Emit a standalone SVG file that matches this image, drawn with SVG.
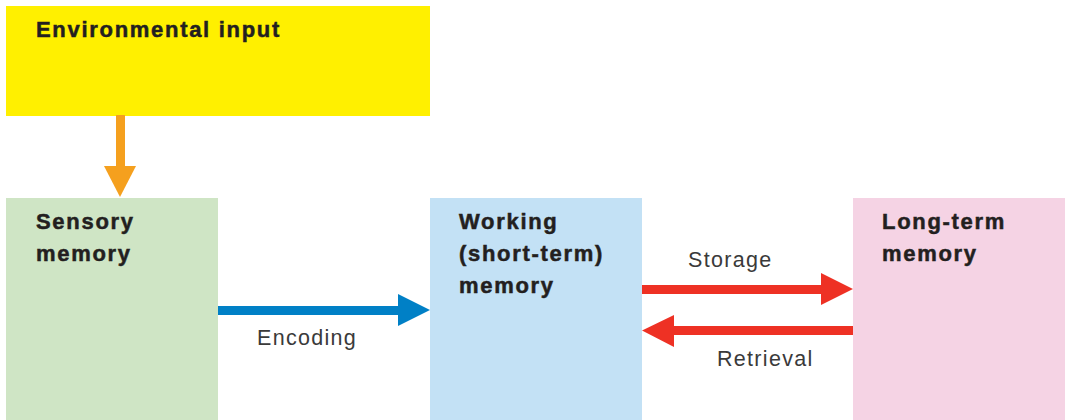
<svg xmlns="http://www.w3.org/2000/svg" width="1065" height="420" viewBox="0 0 1065 420">
<style>
.t{font-family:"Liberation Sans",Arial,sans-serif;font-weight:bold;font-size:22px;fill:#231f20;stroke:#231f20;stroke-width:0.5px;letter-spacing:1.7px}
.l{font-family:"Liberation Sans",Arial,sans-serif;font-size:21.5px;fill:#3a3a3a;letter-spacing:1.3px}
</style>
<rect width="1065" height="420" fill="#ffffff"/>
<g id="env"><rect x="6" y="6" width="424" height="110" fill="#fff000"/><text class="t" x="36" y="37">Environmental input</text></g>
<g id="sensory"><rect x="6" y="198" width="212" height="222" fill="#cfe5c5"/><text class="t" x="36" y="229">Sensory</text><text class="t" x="36" y="261">memory</text></g>
<g id="working"><rect x="430" y="198" width="212" height="222" fill="#c3e1f5"/><text class="t" x="459" y="229">Working</text><text class="t" x="459" y="261">(short-term)</text><text class="t" x="459" y="293">memory</text></g>
<g id="longterm"><rect x="853" y="198" width="212" height="222" fill="#f5d3e4"/><text class="t" x="882" y="229">Long-term</text><text class="t" x="882" y="261">memory</text></g>
<g id="connectors">
<rect x="116" y="115" width="9" height="52" fill="#f5a01e"/><polygon points="104,166 136,166 120,197" fill="#f5a01e"/>
<rect x="218" y="306" width="181" height="9" fill="#0080c6"/><polygon points="398,294 430,310 398,326" fill="#0080c6"/>
<text class="l" x="257" y="345">Encoding</text>
<rect x="642" y="285" width="180" height="9" fill="#ee3124"/><polygon points="821,273 853,289 821,305" fill="#ee3124"/>
<text class="l" x="688" y="267">Storage</text>
<rect x="673" y="326" width="180" height="9" fill="#ee3124"/><polygon points="674,315 642,330.5 674,347" fill="#ee3124"/>
<text class="l" x="717" y="366">Retrieval</text>
</g>
</svg>
